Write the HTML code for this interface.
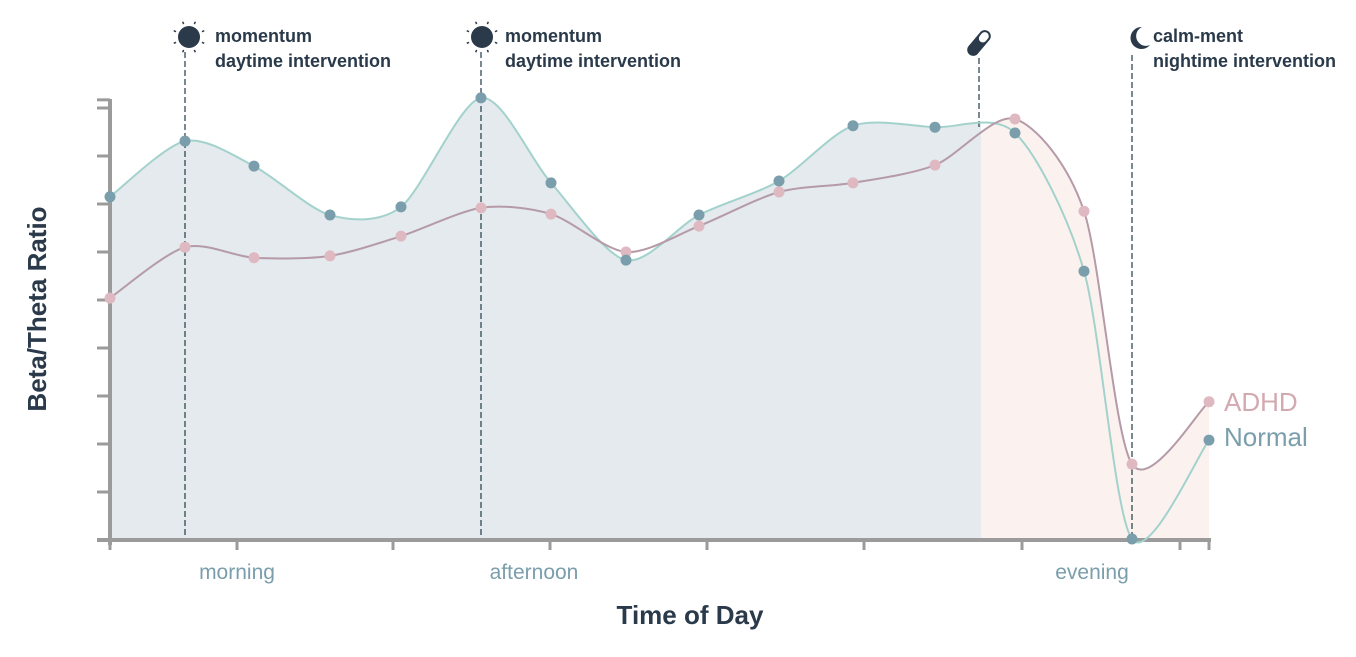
<!DOCTYPE html>
<html><head><meta charset="utf-8"><style>
html,body{margin:0;padding:0;background:#fff;}
svg{display:block;font-family:"Liberation Sans",sans-serif;}
</style></head><body>
<svg id="chart" width="1356" height="657" viewBox="0 0 1356 657">
<defs>
<clipPath id="leftClip"><rect x="110" y="0" width="871" height="540"/></clipPath>
<clipPath id="rightClip"><rect x="981" y="0" width="228" height="540"/></clipPath>
</defs>
<g id="areas"></g>
<g id="annotations"></g>
<g id="axes"></g>
<g id="lines"></g>
<g id="dots"></g>
<text x="46" y="309" transform="rotate(-90 46 309)" text-anchor="middle" font-size="26" font-weight="bold" fill="#2a3a4a">Beta/Theta Ratio</text>
<text x="690" y="624" text-anchor="middle" font-size="26" font-weight="bold" fill="#2a3a4a">Time of Day</text>
<text x="1224" y="411" font-size="26" fill="#d3a9b0">ADHD</text>
<text x="1224" y="446" font-size="26" fill="#7a9eab">Normal</text>
</svg>
<script>
const times=[0,75,144,220,291,371,441,516,589,669,743,825,905,974,1022,1099];
const normalVals=[7.15,8.31,7.79,6.77,6.94,9.21,7.44,5.83,6.77,7.48,8.63,8.6,8.48,5.6,0.02,2.08];
const adhdVals=[5.04,6.1,5.88,5.92,6.33,6.92,6.79,6.0,6.54,7.25,7.44,7.81,8.77,6.85,1.58,2.88];
const periodLabels=["morning","afternoon","evening"];
const periodTimes=[127,424,982];
const xTickTimes=[0,127,283,440,597,754,912,1070,1099];
const yTickVals=[0,1,2,3,4,5,6,7,8,9,9.17];
const ns="http://www.w3.org/2000/svg";
const X0=110,X1=1209,Y0=540,YS=48;
function xs(t){return X0+t*(X1-X0)/1099;}
function ys(v){return Y0-v*YS;}
function mk(tag,attrs,parent){const e=document.createElementNS(ns,tag);for(const k in attrs)e.setAttribute(k,attrs[k]);parent.appendChild(e);return e;}
function pathD(vals){
  const p=times.map((t,i)=>[xs(t),ys(vals[i])]);
  let d="M"+p[0][0]+","+p[0][1];
  for(let i=0;i<p.length-1;i++){
    const p0=p[Math.max(0,i-1)],p1=p[i],p2=p[i+1],p3=p[Math.min(p.length-1,i+2)];
    const k=0.14;
    d+=" C"+(p1[0]+(p2[0]-p0[0])*k)+","+(p1[1]+(p2[1]-p0[1])*k)+" "+(p2[0]-(p3[0]-p1[0])*k)+","+(p2[1]-(p3[1]-p1[1])*k)+" "+p2[0]+","+p2[1];
  }
  return d;
}
const areas=document.getElementById('areas'),lines=document.getElementById('lines'),dots=document.getElementById('dots'),axes=document.getElementById('axes'),ann=document.getElementById('annotations');
const nd=pathD(normalVals),ad=pathD(adhdVals);
const a1=mk('path',{d:nd+" L"+xs(1099)+","+Y0+" L"+X0+","+Y0+" Z",fill:"#e4eaed","clip-path":"url(#leftClip)"},areas);


const a2=mk('path',{d:ad+" L"+xs(1099)+","+Y0+" L"+X0+","+Y0+" Z",fill:"#fbf2ef","clip-path":"url(#rightClip)"},areas);


const l1=mk('path',{d:nd,fill:"none",stroke:"#a3d2cd","stroke-width":2},lines);


const l2=mk('path',{d:ad,fill:"none",stroke:"#b59aa8","stroke-width":2},lines);


times.forEach((t,i)=>{
  const c=mk('circle',{cx:xs(t),cy:ys(adhdVals[i]),r:5.5,fill:"#dfb9c1"},dots);
  
  
  const c2=mk('circle',{cx:xs(t),cy:ys(normalVals[i]),r:5.5,fill:"#7a9eab"},dots);
  
  
});
const ya=mk('line',{x1:110,y1:99,x2:110,y2:545,stroke:"#9b9b9b","stroke-width":4},axes);


const xa=mk('line',{x1:97,y1:540,x2:1211,y2:540,stroke:"#9b9b9b","stroke-width":4},axes);


yTickVals.forEach(v=>{
  const t=mk('line',{x1:97,y1:ys(v),x2:110,y2:ys(v),stroke:"#9b9b9b","stroke-width":3},axes);
  
  
});
xTickTimes.forEach(v=>{
  const t=mk('line',{x1:xs(v),y1:540,x2:xs(v),y2:550,stroke:"#9b9b9b","stroke-width":3},axes);
  
  
});
periodLabels.forEach((l,i)=>{
  const t=mk('text',{x:xs(periodTimes[i]),y:579,"text-anchor":"middle","font-size":21,fill:"#7a9eab"},axes);
  t.textContent=l;
  
  
});
function dash(x,y1,y2){const d=mk('line',{x1:x,y1:y1,x2:x,y2:y2,stroke:"#1e3d45","stroke-width":1.2,"stroke-dasharray":"6,3"},ann);

}
function sun(cx,cy){const g=mk('g',{},ann);


mk('circle',{cx:cx,cy:cy,r:11,fill:"#2a3a4a"},g);
for(let k=0;k<8;k++){const a=k*Math.PI/4+Math.PI/8;mk('line',{x1:cx+14*Math.cos(a),y1:cy+14*Math.sin(a),x2:cx+16.5*Math.cos(a),y2:cy+16.5*Math.sin(a),stroke:"#2a3a4a","stroke-width":1.5},g);}}
function label(x,l1t,l2t){const t=mk('text',{x:x,y:42,"font-size":18,"font-weight":"bold",fill:"#2a3a4a"},ann);t.textContent=l1t;


const t2=mk('text',{x:x,y:67,"font-size":18,"font-weight":"bold",fill:"#2a3a4a"},ann);t2.textContent=l2t;

}
dash(185,52,540);sun(189,37);label(215,"momentum","daytime intervention");
dash(481,52,540);sun(482,37);label(505,"momentum","daytime intervention");
dash(979,58,127);
const pill=mk('g',{transform:"translate(979,43) rotate(40)"},ann);


mk('rect',{x:-6,y:-15,width:12,height:30,rx:6,fill:"#2a3a4a"},pill);
mk('rect',{x:-4,y:-13,width:8,height:11,rx:4,fill:"#fff"},pill);
dash(1132,55,540);
const moon=mk('path',{d:"M1142,27 A11,11 0 1 0 1150,45 A9,9 0 1 1 1142,27 Z",fill:"#2a3a4a"},ann);


label(1153,"calm-ment","nightime intervention");
</script>
</body></html>
